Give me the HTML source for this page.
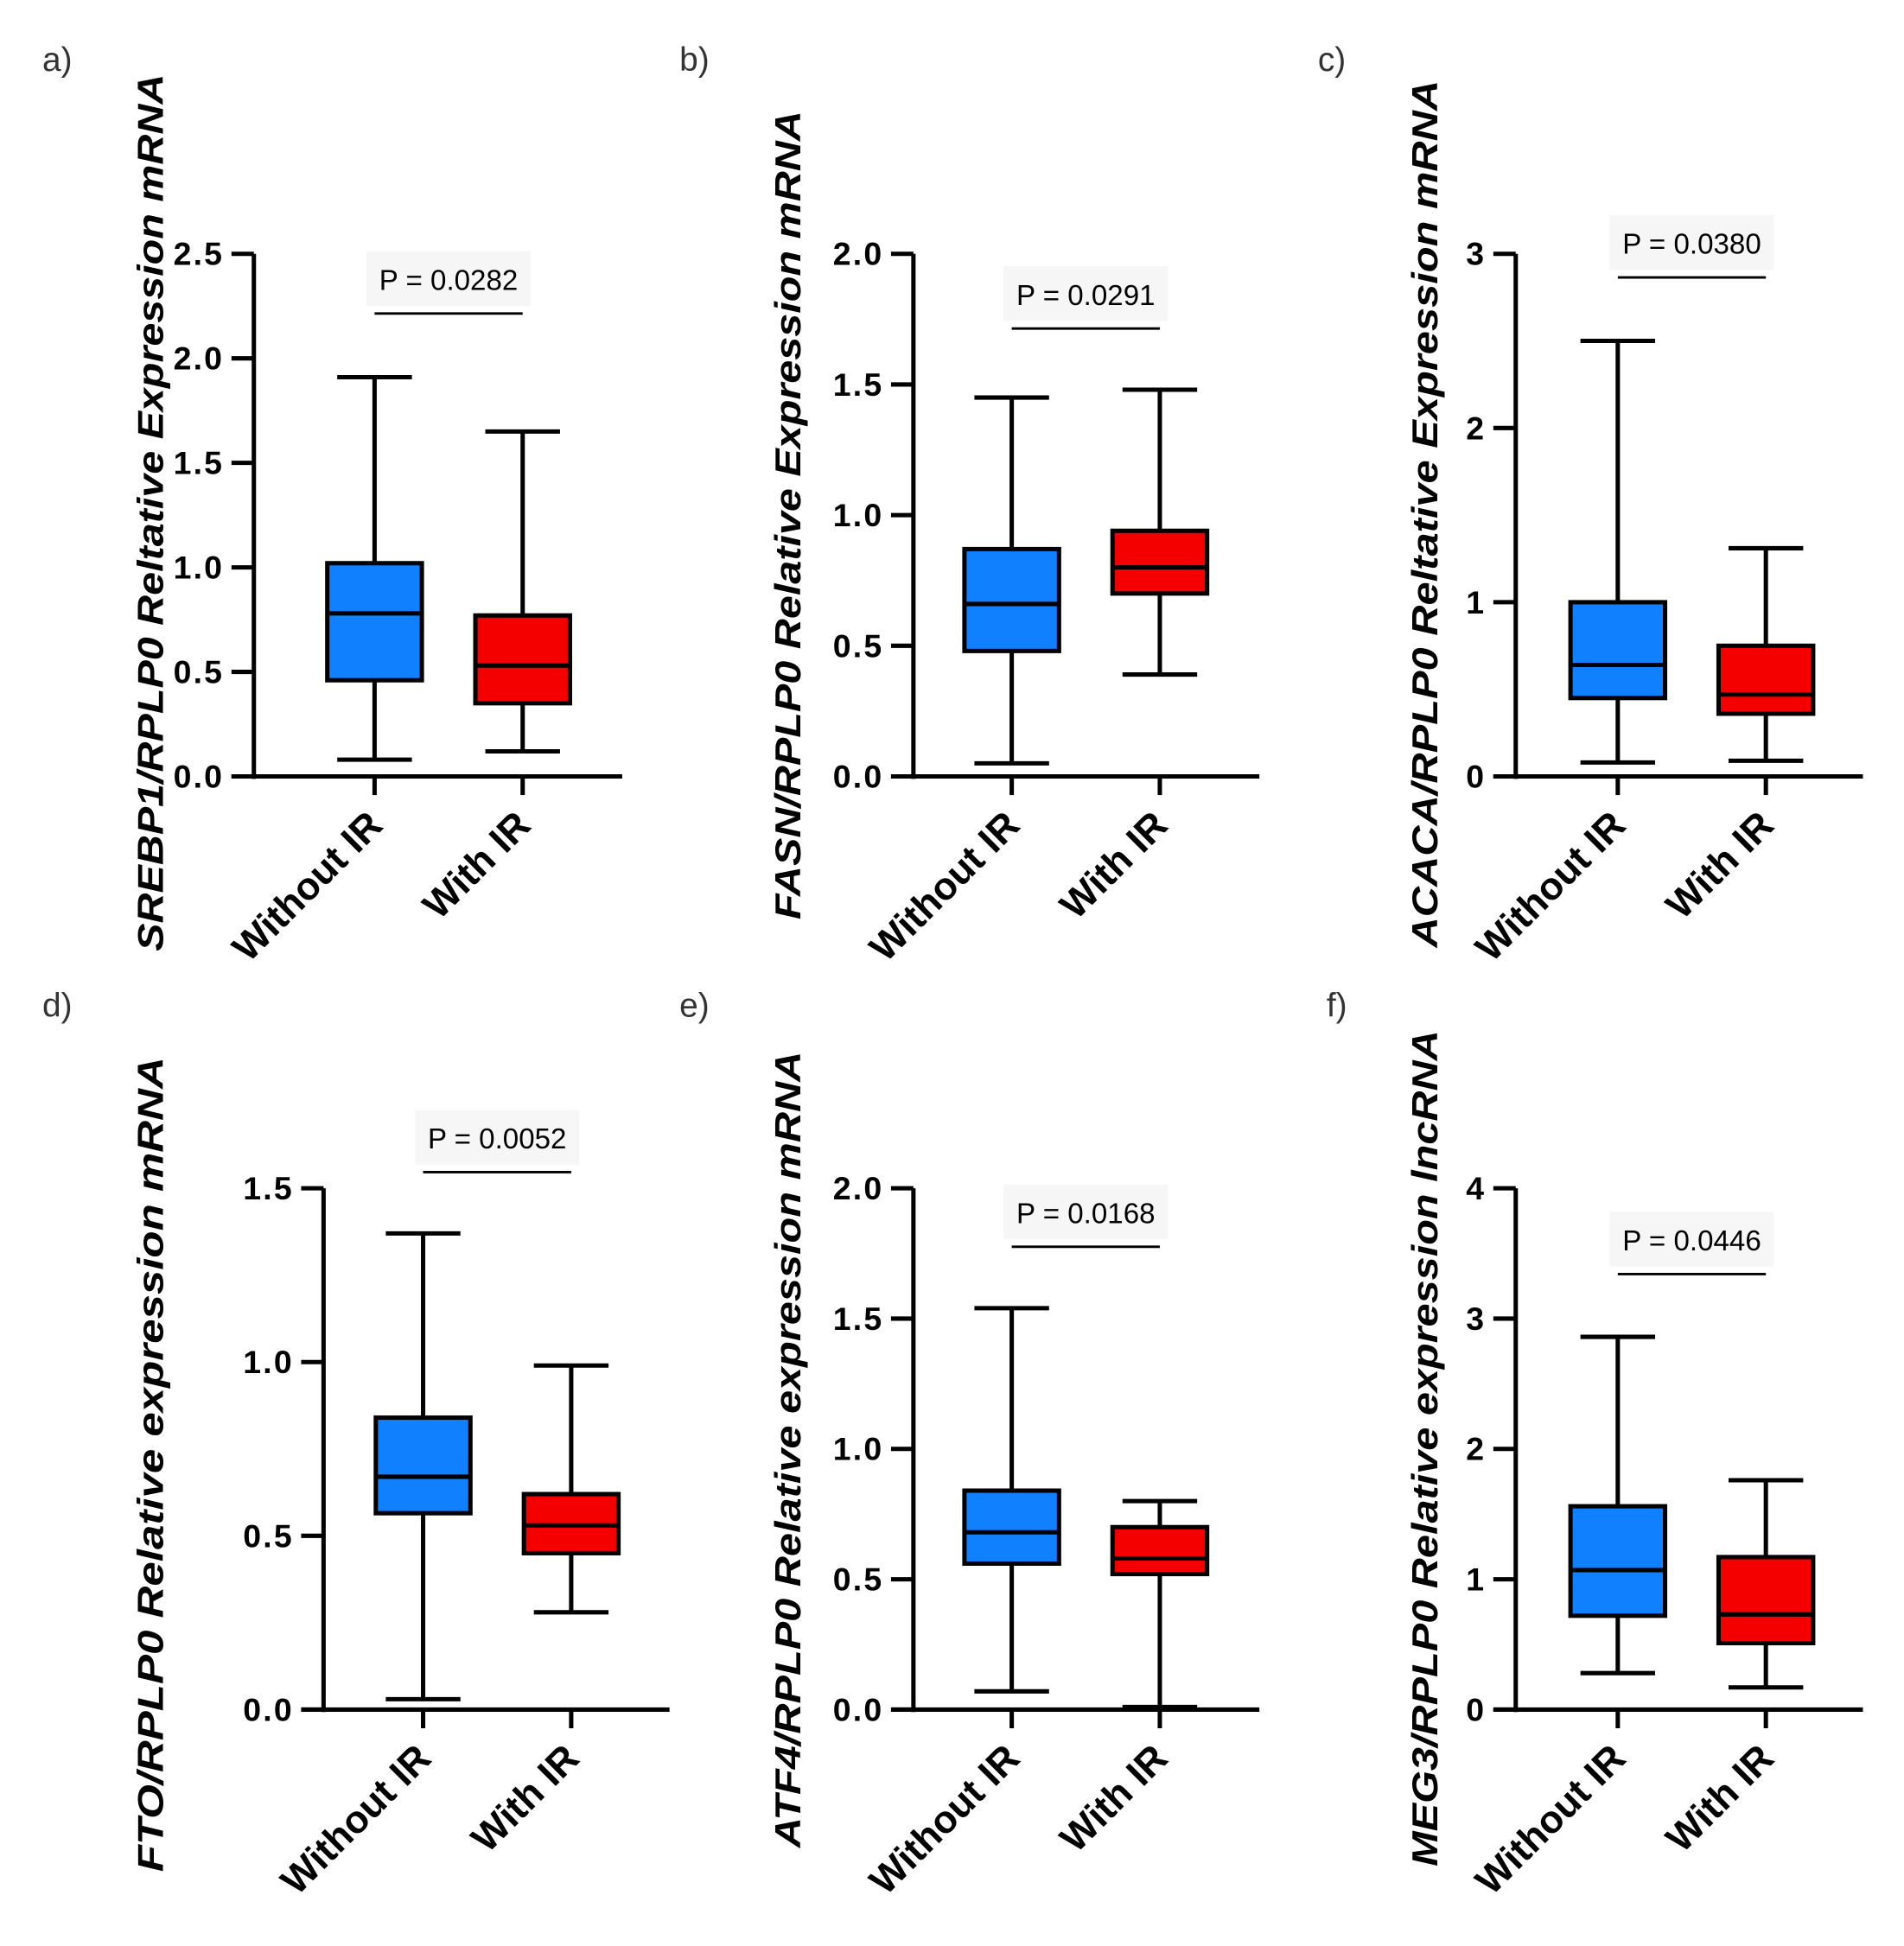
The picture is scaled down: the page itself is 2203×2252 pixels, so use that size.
<!DOCTYPE html>
<html><head><meta charset="utf-8"><style>
html,body{margin:0;padding:0;background:#fff;}
svg{display:block;}
</style></head><body>
<svg id="fig" width="2203" height="2252" viewBox="0 0 1530 1564" preserveAspectRatio="none" xmlns="http://www.w3.org/2000/svg" font-family="Liberation Sans, Arial, sans-serif"></svg>
<script>
const categories = ["Without IR", "With IR"];
// [min, q1, median, q3, max]
const aWithout = [0.08, 0.46, 0.78, 1.02, 1.91];
const aWith = [0.12, 0.35, 0.53, 0.77, 1.65];
const bWithout = [0.05, 0.48, 0.66, 0.87, 1.45];
const bWith = [0.39, 0.70, 0.80, 0.94, 1.48];
const cWithout = [0.08, 0.45, 0.64, 1.00, 2.50];
const cWith = [0.09, 0.36, 0.47, 0.75, 1.31];
const dWithout = [0.03, 0.565, 0.67, 0.84, 1.37];
const dWith = [0.28, 0.45, 0.53, 0.62, 0.99];
const eWithout = [0.07, 0.56, 0.68, 0.84, 1.54];
const eWith = [0.01, 0.52, 0.58, 0.70, 0.80];
const fWithout = [0.28, 0.72, 1.07, 1.56, 2.86];
const fWith = [0.17, 0.51, 0.73, 1.17, 1.76];
const aTicks = ["0.0","0.5","1.0","1.5","2.0","2.5"];
const bTicks = ["0.0","0.5","1.0","1.5","2.0"];
const cTicks = ["0","1","2","3"];
const dTicks = ["0.0","0.5","1.0","1.5"];
const eTicks = ["0.0","0.5","1.0","1.5","2.0"];
const fTicks = ["0","1","2","3","4"];
const pValues = ["P = 0.0282","P = 0.0291","P = 0.0380","P = 0.0052","P = 0.0168","P = 0.0446"];

const NS = "http://www.w3.org/2000/svg";
const svg = document.getElementById('fig');
function mk(tag, attrs, parent){
  const e = document.createElementNS(NS, tag);
  for (const k in attrs) e.setAttribute(k, attrs[k]);
  (parent||svg).appendChild(e);
  return e;
}
const panels = [
  {id:'a', lbl:[34,57], ax:204, y0:624, yt:204, xe:500, c:[301,420], ticks:aTicks, max:2.5, s:[aWithout,aWith], p:pValues[0], py:225, gene:"SREBP1/RPLP0", rest:" Reltative Expression mRNA", tx:120, tyc:412, tl:705},
  {id:'b', lbl:[546,57], ax:734, y0:624, yt:204, xe:1012, c:[813,932], ticks:bTicks, max:2.0, s:[bWithout,bWith], p:pValues[1], py:237, gene:"FASN/RPLP0", rest:" Relative Expression mRNA", tx:632, tyc:414, tl:650},
  {id:'c', lbl:[1059,57], ax:1218, y0:624, yt:204, xe:1497, c:[1300,1419], ticks:cTicks, max:3, s:[cWithout,cWith], p:pValues[2], py:196, gene:"ACACA/RPLP0", rest:" Reltative Expression mRNA", tx:1144, tyc:413, tl:697},
  {id:'d', lbl:[34,817], ax:260, y0:1374, yt:955, xe:538, c:[340,459], ticks:dTicks, max:1.5, s:[dWithout,dWith], p:pValues[3], py:915, gene:"FTO/RPLP0", rest:" Relative expression mRNA", tx:120, tyc:1177, tl:655},
  {id:'e', lbl:[546,817], ax:734, y0:1374, yt:955, xe:1012, c:[813,932], ticks:eTicks, max:2.0, s:[eWithout,eWith], p:pValues[4], py:975, gene:"ATF4/RPLP0", rest:" Relative expression mRNA", tx:632, tyc:1165, tl:640},
  {id:'f', lbl:[1066,817], ax:1218, y0:1374, yt:955, xe:1497, c:[1300,1419], ticks:fTicks, max:4, s:[fWithout,fWith], p:pValues[5], py:997, gene:"MEG3/RPLP0", rest:" Relative expression lncRNA", tx:1144, tyc:1164, tl:672}
];
const fills = ["#1080ff","#f50000"];
panels.forEach(P=>{
  const g = mk('g',{});
  
  
  const y = v => P.y0 - (v/P.max)*(P.y0-P.yt);
  const pl = mk('text',{x:P.lbl[0],y:P.lbl[1],'font-size':27,fill:'#333'},g);
  pl.textContent = P.id+')';
  
  
  const t = mk('text',{x:0,y:0,transform:`translate(${P.tx+11},${P.tyc}) rotate(-90)`,'text-anchor':'middle','font-size':29,'font-style':'italic',fill:'#000',textLength:P.tl,lengthAdjust:'spacingAndGlyphs'},g);
  const t1 = mk('tspan',{'font-weight':'bold'},t); t1.textContent = P.gene;
  const t2 = mk('tspan',{'font-weight':'bold'},t); t2.textContent = P.rest;
  
  
  const ya = mk('line',{x1:P.ax,y1:P.yt,x2:P.ax,y2:P.y0+2,stroke:'#000','stroke-width':3.5},g);
  
  
  const xa = mk('line',{x1:P.ax-18,y1:P.y0,x2:P.xe,y2:P.y0,stroke:'#000','stroke-width':3.5},g);
  
  
  P.ticks.forEach(tk=>{
    const v = parseFloat(tk), yy = y(v);
    mk('line',{x1:P.ax-18,y1:yy,x2:P.ax,y2:yy,stroke:'#000','stroke-width':3.5},g);
    const tl = mk('text',{x:P.ax-24,y:yy+9,'text-anchor':'end','font-size':26,'font-weight':'bold','letter-spacing':1.5,fill:'#000'},g);
    tl.textContent = tk;
    
    
  });
  categories.forEach((cat,i)=>{
    const cx = P.c[i], d = P.s[i];
    mk('line',{x1:cx,y1:P.y0,x2:cx,y2:P.y0+15,stroke:'#000','stroke-width':3.5},g);
    const cl = mk('text',{x:0,y:0,transform:`translate(${cx+8},${P.y0+41}) rotate(-45)`,'text-anchor':'end','font-size':31,'font-weight':'bold',fill:'#000'},g);
    cl.textContent = cat;
    
    
    const bg = mk('g',{},g);
    
    
    mk('line',{x1:cx,y1:y(d[0]),x2:cx,y2:y(d[4]),stroke:'#000','stroke-width':3.5},bg);
    mk('line',{x1:cx-30,y1:y(d[0]),x2:cx+30,y2:y(d[0]),stroke:'#000','stroke-width':3.5},bg);
    mk('line',{x1:cx-30,y1:y(d[4]),x2:cx+30,y2:y(d[4]),stroke:'#000','stroke-width':3.5},bg);
    mk('rect',{x:cx-38,y:y(d[3]),width:76,height:y(d[1])-y(d[3]),fill:fills[i],stroke:'#000','stroke-width':3.5},bg);
    mk('line',{x1:cx-38,y1:y(d[2]),x2:cx+38,y2:y(d[2]),stroke:'#000','stroke-width':3.5},bg);
  });
  const mid = (P.c[0]+P.c[1])/2;
  mk('rect',{x:mid-66,y:P.py-23,width:132,height:44,fill:'#f6f6f6'},g);
  const pt = mk('text',{x:mid,y:P.py+8,'text-anchor':'middle','font-size':23,fill:'#000'},g);
  pt.textContent = P.p;
  
  
  const bl = mk('line',{x1:P.c[0],y1:P.py+27,x2:P.c[1],y2:P.py+27,stroke:'#000','stroke-width':2},g);
  
  
});
</script>
</body></html>
